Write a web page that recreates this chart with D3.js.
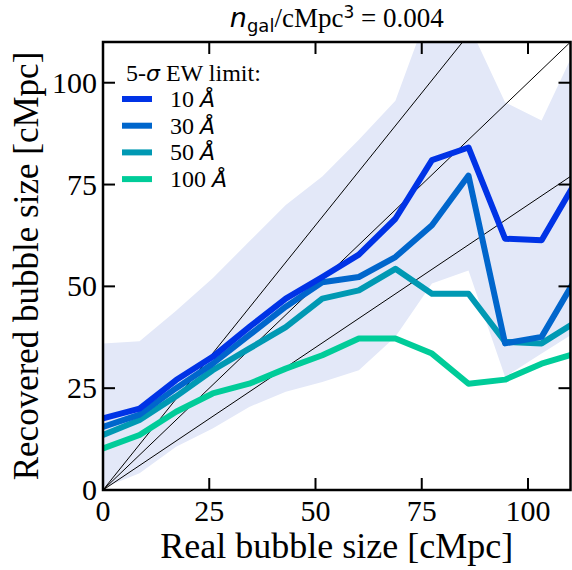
<meta charset="utf-8">
<script src="https://d3js.org/d3.v7.js"></script>
<style>
body { margin: 0; background-color: white; }
svg { background-color: white; font-family: 'Liberation Serif', 'Times New Roman', serif; }
.math { font-family: 'DejaVu Sans'; }
</style>
<div id="chart"></div>
<script>
// real bubble size bins [cMpc]
var realSize = [0, 8.6, 17.2, 25.8, 34.4, 43, 51.6, 60.2, 68.8, 77.4, 86, 94.6, 103.2, 111.8];

// recovered size per EW limit
var ewLimits = ["10", "30", "50", "100"];
var rec10  = [17.6, 20.0, 27.0, 32.7, 40.0, 47.0, 52.3, 57.8, 66.6, 81.0, 84.1, 61.7, 61.3, 76.7];
var rec30  = [15.5, 18.5, 25.0, 31.0, 38.0, 45.0, 51.0, 52.3, 57.2, 65.0, 77.2, 36.0, 37.6, 52.9];
var rec50  = [13.5, 17.2, 23.0, 29.4, 34.7, 40.0, 47.0, 49.0, 54.3, 48.2, 48.2, 36.4, 36.0, 41.6];
var rec100 = [10.2, 13.5, 19.2, 23.7, 26.1, 29.8, 33.1, 37.2, 37.2, 33.5, 26.1, 27.1, 31.0, 33.7];

// shaded scatter band
var bandLow  = [0.5, 4.1, 10.6, 15.1, 20.4, 24.1, 26.5, 29.4, 37.6, 50.7, 53.9, 27.8, 33.5, 39.2];
var bandHigh = [36, 36.5, 44, 52, 61, 70, 77, 86, 95.6, 120, 114.4, 95.2, 90.7, 109.8];

// reference lines y = s * x
var slopes = [1.3, 1, 0.7];

var xTicks = [0, 25, 50, 75, 100];
var yTicks = [0, 25, 50, 75, 100];

var colors = ["#0033e6", "#0066cc", "#0099b3", "#00cc99"];
var series = [rec10, rec30, rec50, rec100];

var margin = {top: 42, right: 1.5, bottom: 80, left: 103},
    width = 572 - margin.left - margin.right,
    height = 570 - margin.top - margin.bottom;

var svg = d3.select("#chart")
    .append("svg")
        .attr("width", 572)
        .attr("height", 570);

var g = svg.append("g")
    .attr("transform", "translate(" + margin.left + "," + margin.top + ")");

var x = d3.scaleLinear().domain([0, 110]).range([0, width]);
var y = d3.scaleLinear().domain([0, 110]).range([height, 0]);

g.append("clipPath").attr("id", "clip")
    .append("rect").attr("width", width).attr("height", height);

var plot = g.append("g").attr("clip-path", "url(#clip)");

// band
var area = d3.area()
    .x(function (d, i) { return x(realSize[i]); })
    .y0(function (d, i) { return y(bandLow[i]); })
    .y1(function (d, i) { return y(bandHigh[i]); });
plot.append("path")
    .datum(realSize)
    .attr("d", area)
    .style("fill", "#e3e8f8");

// reference lines
slopes.forEach(function (s) {
    plot.append("line")
        .attr("x1", x(0)).attr("y1", y(0))
        .attr("x2", x(120)).attr("y2", y(120 * s))
        .style("stroke", "black")
        .style("stroke-width", 1);
});

// data lines
var line = d3.line()
    .x(function (d, i) { return x(realSize[i]); })
    .y(function (d) { return y(d); });
for (var k = series.length - 1; k >= 0; k--) {
    plot.append("path")
        .datum(series[k])
        .attr("d", line)
        .style("fill", "none")
        .style("stroke", colors[k])
        .style("stroke-width", 6)
        .style("stroke-linejoin", "round");
}

// frame
g.append("rect")
    .attr("width", width).attr("height", height)
    .style("fill", "none").style("stroke", "black").style("stroke-width", 2.5);

// ticks, inward on all four sides
var tickLen = 12;
xTicks.forEach(function (t) {
    g.append("line").attr("x1", x(t)).attr("x2", x(t)).attr("y1", height).attr("y2", height - tickLen)
        .style("stroke", "black").style("stroke-width", 2);
    g.append("line").attr("x1", x(t)).attr("x2", x(t)).attr("y1", 0).attr("y2", tickLen)
        .style("stroke", "black").style("stroke-width", 2);
    g.append("text").attr("x", x(t)).attr("y", height + 31)
        .attr("text-anchor", "middle").style("font-size", "30px").text(t);
});
yTicks.forEach(function (t) {
    g.append("line").attr("x1", 0).attr("x2", tickLen).attr("y1", y(t)).attr("y2", y(t))
        .style("stroke", "black").style("stroke-width", 2);
    g.append("line").attr("x1", width).attr("x2", width - tickLen).attr("y1", y(t)).attr("y2", y(t))
        .style("stroke", "black").style("stroke-width", 2);
    g.append("text").attr("x", -6).attr("y", y(t) + 10)
        .attr("text-anchor", "end").style("font-size", "30px").text(t);
});

// axis labels
svg.append("text")
    .attr("x", margin.left + width / 2).attr("y", 558)
    .attr("text-anchor", "middle").style("font-size", "36px")
    .text("Real bubble size [cMpc]");
svg.append("text")
    .attr("transform", "translate(38," + (margin.top + height / 2) + ") rotate(-90)")
    .attr("text-anchor", "middle").style("font-size", "35px")
    .text("Recovered bubble size [cMpc]");

// title
var title = svg.append("text")
    .attr("x", margin.left + width / 2).attr("y", 27)
    .attr("text-anchor", "middle").style("font-size", "27px");
title.append("tspan").attr("class", "math").style("font-style", "italic").text("n");
title.append("tspan").attr("class", "math").style("font-size", "18px").attr("dy", 5).text("gal");
title.append("tspan").attr("dy", -5).text("/cMpc");
title.append("tspan").attr("class", "math").style("font-size", "17px").attr("dy", -9).text("3");
title.append("tspan").attr("dy", 9).text(" = 0.004");

// legend
var legend = g.append("g");
var lt = legend.append("text").attr("x", 23).attr("y", 39).style("font-size", "24px");
lt.append("tspan").text("5-");
lt.append("tspan").attr("class", "math").style("font-style", "italic").style("font-size", "22px").text("σ");
lt.append("tspan").text(" EW limit:");
ewLimits.forEach(function (e, i) {
    var yy = 57 + i * 26.7;
    legend.append("line")
        .attr("x1", 19).attr("x2", 49).attr("y1", yy).attr("y2", yy)
        .style("stroke", colors[i]).style("stroke-width", 6);
    var t = legend.append("text").attr("x", 67).attr("y", yy + 8).style("font-size", "24px");
    t.append("tspan").text(e + " ");
    t.append("tspan").attr("class", "math").style("font-style", "italic").style("font-size", "22px").text("Å");
});
</script>
